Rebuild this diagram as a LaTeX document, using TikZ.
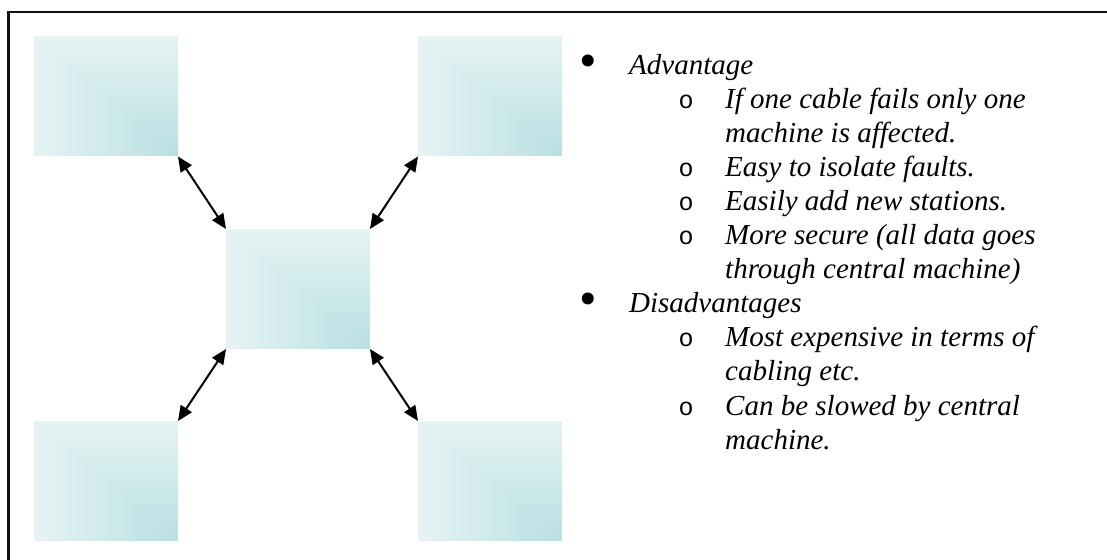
\documentclass[tikz,border=0pt]{standalone}
\usepackage{fontspec}
\setmainfont{Liberation Serif}
\newfontfamily\bulletmono{Liberation Mono}
\usetikzlibrary{arrows.meta,calc}

\definecolor{boxlight}{RGB}{229,243,243}
\definecolor{boxdark}{RGB}{186,223,226}
\definecolor{framecol}{RGB}{17,17,17}

\tikzset{
  station/.style={rectangle, minimum width=144bp, minimum height=120bp,
    inner sep=0pt, outer sep=0pt,
    path picture={
      % rectangular gradient: nested rectangles sharing the lower right corner
      \foreach \i in {0,...,47}{
        \pgfmathsetmacro\t{\i/48}
        \pgfmathtruncatemacro\p{100*\i/47}
        \fill[boxdark!\p!boxlight]
          ($(path picture bounding box.north west)!\t!(path picture bounding box.south east)$)
          rectangle (path picture bounding box.south east);
      }
    }},
  link/.style={line width=2bp,
    {Triangle[length=15bp,width=13bp]}-{Triangle[length=15bp,width=13bp]}},
  mainbullet/.style={anchor=base, inner sep=0pt, font=\fontsize{50bp}{50bp}\selectfont},
  subbullet/.style={anchor=base, inner sep=0pt, font=\bulletmono\fontsize{25bp}{34bp}\selectfont},
  itemtext/.style={anchor=base west, inner sep=0pt, font=\fontsize{29bp}{34bp}\selectfont\itshape},
}

\begin{document}
\begin{tikzpicture}[x=1bp, y=-1bp]
\useasboundingbox (0,0) rectangle (1107,560);
\clip (0,0) rectangle (1107,560);

% outer frame (only its top and left sides fall inside the page)
\draw[framecol, line width=2.6bp] (8.5,12) rectangle (1140,600);

% star network: four stations around a central machine
\node[station] (tl) at (106,96.5) {};
\node[station] (tr) at (490,96.5) {};
\node[station] (c)  at (298,289) {};
\node[station] (bl) at (106,481) {};
\node[station] (br) at (490,481) {};

\draw[link] (tl.south east) -- (c.north west);
\draw[link] (tr.south west) -- (c.north east);
\draw[link] (c.south west) -- (bl.north east);
\draw[link] (c.south east) -- (br.north west);

% advantages and disadvantages
\node[mainbullet] (b1) at (588,78) {\textbullet};
\node[itemtext] (t1) at (629,75) {Advantage};
\node[subbullet] (s1) at (686,109) {o};
\node[itemtext] (t2) at (725,109) {If one cable fails only one};
\node[itemtext] (t3) at (725,143) {machine is affected.};
\node[subbullet] (s2) at (686,177) {o};
\node[itemtext] (t4) at (725,177) {Easy to isolate faults.};
\node[subbullet] (s3) at (686,211) {o};
\node[itemtext] (t5) at (725,211) {Easily add new stations.};
\node[subbullet] (s4) at (686,245) {o};
\node[itemtext] (t6) at (725,245) {More secure (all data goes};
\node[itemtext] (t7) at (725,279) {through central machine)};
\node[mainbullet] (b2) at (588,316) {\textbullet};
\node[itemtext] (t8) at (629,313) {Disadvantages};
\node[subbullet] (s5) at (686,347) {o};
\node[itemtext] (t9) at (725,347) {Most expensive in terms of};
\node[itemtext] (t10) at (725,381) {cabling etc.};
\node[subbullet] (s6) at (686,415) {o};
\node[itemtext] (t11) at (725,415) {Can be slowed by central};
\node[itemtext] (t12) at (725,449) {machine.};
\end{tikzpicture}
\end{document}
